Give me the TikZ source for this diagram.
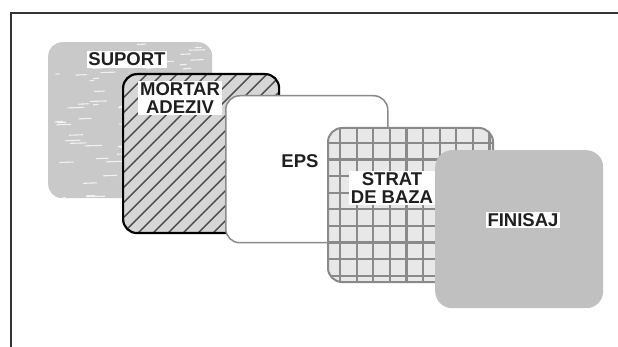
\documentclass[tikz,border=0pt]{standalone}
\usepackage{fontspec}
\setmainfont{Liberation Sans}
\usetikzlibrary{calc}
\definecolor{suportgray}{HTML}{C9C9C9}
\definecolor{mortarfill}{HTML}{D6D6D6}
\definecolor{hatchline}{HTML}{4A4A4A}
\definecolor{gridfill}{HTML}{E8E8E8}
\definecolor{gridline}{HTML}{8A8A8A}
\definecolor{finfill}{HTML}{C0C0C0}
\definecolor{framecol}{HTML}{333333}
\tikzset{
  layer/.style={rectangle, rounded corners=14pt, inner sep=0pt, anchor=north west},
  lbl/.style={fill=white, inner sep=1.8pt, font=\bfseries\fontsize{18.5}{18}\selectfont, align=center, text=black!88},
}
\begin{document}
\begin{tikzpicture}[x=1pt,y=-1pt]
\useasboundingbox (0,0) rectangle (618,347);
\fill[white] (0,0) rectangle (618,347);
% frame
\draw[line width=2pt, framecol] (11,347) -- (11,13) -- (618,13);
% SUPORT
\node[layer, fill=suportgray, minimum width=164pt, minimum height=156pt,
  path picture={
    \pgfmathsetseed{5}
    \foreach \n in {1,...,80}{
      \pgfmathsetmacro\xx{rnd*164}
      \pgfmathsetmacro\yy{rnd*156}
      \pgfmathsetmacro\ll{3+rnd*16}
      \draw[white, line width=1.1pt, opacity=0.75] ($(path picture bounding box.north west)+(\xx pt,-\yy pt)$) -- ++(\ll pt,0.5pt);
    }
  }] (suport) at (48,42) {};
\node[lbl] (lsuport) at (127,59.5) {SUPORT};
% MORTAR ADEZIV
\node[layer, fill=mortarfill, draw=black, line width=2.2pt, minimum width=156pt, minimum height=159pt,
  path picture={
    \foreach \i in {-180,-165,...,180}{
      \draw[hatchline, line width=1.4pt] ($(path picture bounding box.south west)+(\i pt,0)$) -- ++(200pt,200pt);
    }
  }] (mortar) at (122,73) {};
\node[lbl] (lmortar) at (180,98) {MORTAR\\ADEZIV};
% EPS
\node[layer, fill=white, draw=gridline, line width=1.5pt, minimum width=162pt, minimum height=147pt] (eps) at (225,95) {};
\node[lbl] (leps) at (300,161) {EPS};
% STRAT DE BAZA
\node[layer, fill=gridfill, draw=gridline, line width=2pt, minimum width=165pt, minimum height=154pt,
  path picture={
    \foreach \k in {0,1,...,10}{
      \draw[gridline, line width=2.2pt] ($(path picture bounding box.north west)+(12pt+\k*16.6pt,0)$) -- ++(0,-160pt);
      \draw[gridline, line width=2.2pt] ($(path picture bounding box.north west)+(0,-15pt-\k*16.6pt)$) -- ++(170pt,0);
    }
  }] (strat) at (327,127) {};
\node[lbl] (lstrat) at (392,188) {STRAT\\DE BAZA};
% FINISAJ
\node[layer, fill=finfill, rounded corners=17pt, minimum width=168pt, minimum height=158pt] (finisaj) at (435,150) {};
\node[lbl] (lfinisaj) at (523,220) {FINISAJ};
\end{tikzpicture}
\end{document}
